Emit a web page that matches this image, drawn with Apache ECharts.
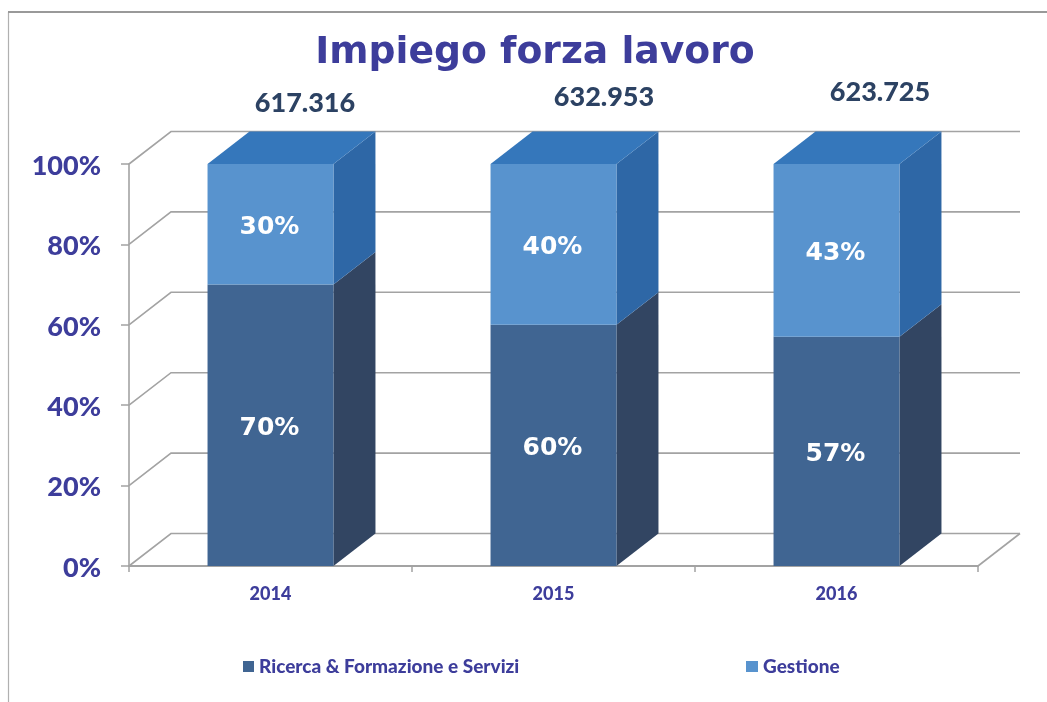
<!DOCTYPE html>
<html>
<head>
<meta charset="utf-8">
<title>Impiego forza lavoro</title>
<style>
    html, body { margin: 0; padding: 0; background: #fff; }
    #chart { width: 1047px; height: 702px; }
</style>
<script src="https://cdn.jsdelivr.net/npm/echarts@6/dist/echarts.min.js"></script>
</head>
<body>
<div id="chart"></div>
<script>
    const categories = ['2014', '2015', '2016'];
    const ricerca = [70, 60, 57];
    const gestione = [30, 40, 43];
    const totals = ['617.316', '632.953', '623.725'];
    const ticks = [0, 20, 40, 60, 80, 100];
    const seriesNames = ['Ricerca & Formazione e Servizi', 'Gestione'];

    // spostamento della profondita' 3D
    const depthX = 42;
    const depthY = 32.5;
    const titleColor = '#3d3d9b';
    const lineColor = '#a3a3a3';
    const labelFont = 'Lato';

    function wallItem(params, api) {
        let sys = params.coordSys;
        let y = api.coord([0, api.value(1)])[1];
        let x0 = sys.x;
        let x1 = sys.x + sys.width;
        let style = { stroke: lineColor, lineWidth: 1.6, fill: 'none' };
        let children = [{
            type: 'polyline',
            shape: { points: [[x0, y], [x0 + depthX, y - depthY], [x1 + depthX, y - depthY]] },
            style: style
        }];
        if (api.value(1) === 0) {
            children.push({
                type: 'line',
                shape: { x1: x1, y1: y, x2: x1 + depthX, y2: y - depthY },
                style: style
            });
        }
        return { type: 'group', children: children };
    }

    // disegna un blocco: fronte, lato, eventualmente il tetto e la percentuale
    function boxItem(colors, showTop) {
        return function (params, api) {
            let bottom = api.coord([api.value(0), api.value(1)]);
            let top = api.coord([api.value(0), api.value(2)]);
            let w = api.size([1, 0])[0] * 0.445;
            let l = bottom[0] - w / 2;
            let r = bottom[0] + w / 2;
            let children = [
                {
                    type: 'polygon',
                    shape: { points: [[r, bottom[1]], [r + depthX, bottom[1] - depthY], [r + depthX, top[1] - depthY], [r, top[1]]] },
                    style: { fill: colors.side }
                },
                {
                    type: 'rect',
                    shape: { x: l, y: top[1], width: w, height: bottom[1] - top[1] },
                    style: { fill: colors.front }
                }
            ];
            if (showTop) {
                children.push({
                    type: 'polygon',
                    shape: { points: [[l, top[1]], [r, top[1]], [r + depthX, top[1] - depthY], [l + depthX, top[1] - depthY]] },
                    style: { fill: colors.top }
                });
            }
            children.push({
                type: 'text',
                style: {
                    x: bottom[0] - 1,
                    y: (bottom[1] + top[1]) / 2 + 3.5,
                    text: (api.value(2) - api.value(1)) + '%',
                    fill: '#fff',
                    font: 'bold 25px "DejaVu Sans"',
                    textAlign: 'center',
                    textVerticalAlign: 'middle'
                }
            });
            return { type: 'group', children: children };
        };
    }

    const totalPositions = [[305, 103], [604, 97], [880, 92]];
    let graphics = [
        {
            type: 'line',
            shape: { x1: 8.5, y1: 12, x2: 8.5, y2: 702 },
            style: { stroke: '#b0b0b0', lineWidth: 1.2 }
        },
        {
            type: 'line',
            shape: { x1: 8, y1: 12, x2: 1047, y2: 12 },
            style: { stroke: '#999', lineWidth: 2 }
        }
    ];
    totals.forEach((t, i) => {
        graphics.push({
            type: 'text',
            x: totalPositions[i][0],
            y: totalPositions[i][1],
            style: {
                text: t,
                fill: '#2c4263',
                font: '900 27px ' + labelFont,
                textAlign: 'center',
                textVerticalAlign: 'middle'
            }
        });
    });

    let myChart = echarts.init(document.getElementById('chart'));
    myChart.setOption({
        animation: false,
        title: {
            text: 'Impiego forza lavoro',
            left: 530,
            top: 29,
            textAlign: 'center',
            textStyle: { color: titleColor, fontFamily: 'DejaVu Sans', fontWeight: 'bold', fontSize: 37.7 }
        },
        legend: [
            {
                data: [seriesNames[0]], left: 243, top: 657, padding: 0, icon: 'rect', itemWidth: 11, itemHeight: 11,
                textStyle: { color: titleColor, fontFamily: labelFont, fontWeight: 900, fontSize: 19 }
            },
            {
                data: [seriesNames[1]], left: 746, top: 657, padding: 0, icon: 'rect', itemWidth: 12, itemHeight: 11,
                textStyle: { color: titleColor, fontFamily: labelFont, fontWeight: 900, fontSize: 19 }
            }
        ],
        grid: { left: 129, right: 69, top: 164, bottom: 136 },
        xAxis: {
            type: 'category',
            data: categories,
            axisLine: { lineStyle: { color: lineColor, width: 2 } },
            axisTick: { show: true, length: 6, alignWithLabel: false, lineStyle: { color: lineColor, width: 1.5 } },
            axisLabel: { color: titleColor, fontFamily: labelFont, fontWeight: 900, fontSize: 18, margin: 19 }
        },
        yAxis: {
            type: 'value',
            min: 0,
            max: 100,
            interval: 20,
            splitLine: { show: false },
            axisLine: { show: true, lineStyle: { color: lineColor, width: 1.6 } },
            axisTick: { show: true, length: 8, lineStyle: { color: lineColor, width: 1.5 } },
            axisLabel: {
                color: titleColor, fontFamily: labelFont, fontWeight: 900, fontSize: 27, margin: 28,
                verticalAlign: 'top',
                lineHeight: 4,
                formatter: '{value}%'
            }
        },
        graphic: graphics,
        series: [
            {
                type: 'custom',
                name: 'pareti',
                silent: true,
                clip: false,
                renderItem: wallItem,
                encode: { x: 0, y: 1 },
                data: ticks.map(v => [0, v])
            },
            {
                type: 'custom',
                name: seriesNames[0],
                clip: false,
                itemStyle: { color: '#406592' },
                renderItem: boxItem({ front: '#406592', side: '#324562' }, false),
                encode: { x: 0, y: [1, 2] },
                data: categories.map((c, i) => [i, 0, ricerca[i]])
            },
            {
                type: 'custom',
                name: seriesNames[1],
                clip: false,
                itemStyle: { color: '#5893ce' },
                renderItem: boxItem({ front: '#5893ce', side: '#2e67a6', top: '#3577bb' }, true),
                encode: { x: 0, y: [1, 2] },
                data: categories.map((c, i) => [i, ricerca[i], ricerca[i] + gestione[i]])
            }
        ]
    });
</script>
</body>
</html>
